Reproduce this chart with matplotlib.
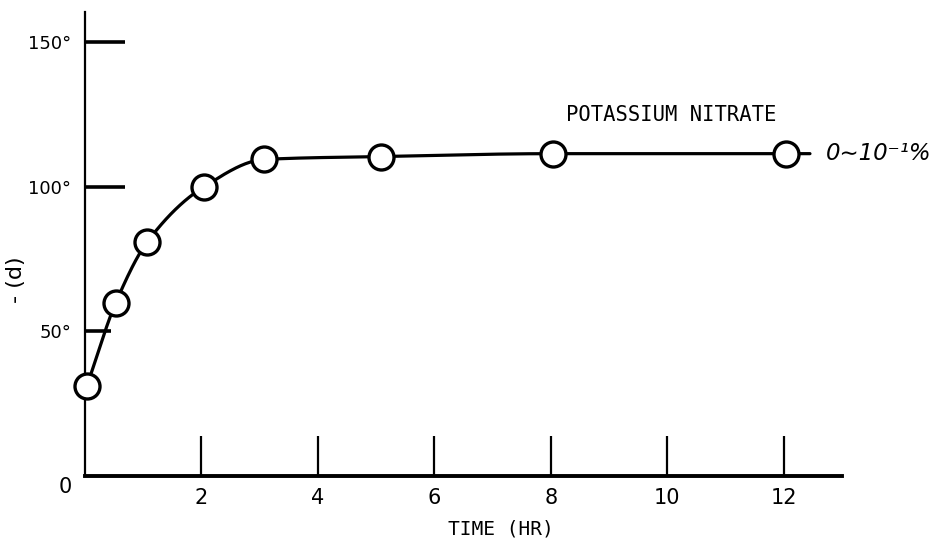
import numpy as np
import matplotlib
matplotlib.use("Agg")
import matplotlib.pyplot as plt

# Optical rotation -(d) of the solution over time (potassium nitrate 0~10^-1 %)
hours = [0.03, 0.53, 1.07, 2.04, 3.08, 5.09, 8.04, 12.03]
rotation_deg = [31, 60, 81, 100, 109.5, 110.5, 111.5, 111.5]

x_ticks = [2, 4, 6, 8, 10, 12]
x_tick_labels = ["2", "4", "6", "8", "10", "12"]
y_ticks = [50, 100, 150]
y_tick_labels = ["50°", "100°", "150°"]

series_name = "POTASSIUM NITRATE"
series_range = "0∼10⁻¹%"
tail_hours = 0.42  # short run of the curve past the last sample


def pchip(x, y, xs):
    """Monotone cubic Hermite curve through (x, y), evaluated at xs."""
    x = np.asarray(x, float)
    y = np.asarray(y, float)
    h = np.diff(x)
    d = np.diff(y) / h
    m = np.zeros_like(y)
    for k in range(1, len(x) - 1):
        if d[k - 1] * d[k] > 0:
            w1 = 2 * h[k] + h[k - 1]
            w2 = h[k] + 2 * h[k - 1]
            m[k] = (w1 + w2) / (w1 / d[k - 1] + w2 / d[k])
    m[0] = d[0]
    m[-1] = d[-1]
    idx = np.clip(np.searchsorted(x, xs) - 1, 0, len(x) - 2)
    t = (xs - x[idx]) / h[idx]
    h00 = 2 * t**3 - 3 * t**2 + 1
    h10 = t**3 - 2 * t**2 + t
    h01 = -2 * t**3 + 3 * t**2
    h11 = t**3 - t**2
    return (h00 * y[idx] + h10 * h[idx] * m[idx]
            + h01 * y[idx + 1] + h11 * h[idx] * m[idx + 1])


fig = plt.figure(figsize=(9.47, 5.40), dpi=100)
W, H = 947, 540
ax = fig.add_axes([85 / W, 1 - 476 / H, 757 / W, 464 / H])
ax.set_xlim(0, 13.0)
ax.set_ylim(0, 160.5)

# smooth curve through the samples, then a short flat tail
xs = np.linspace(hours[0], hours[-1], 600)
ys = pchip(hours, rotation_deg, xs)
xs = np.append(xs, hours[-1] + tail_hours)
ys = np.append(ys, rotation_deg[-1])
ax.plot(xs, ys, color="black", lw=2.3, zorder=2, clip_on=False,
        solid_capstyle="round")
ax.plot(hours, rotation_deg, "o", ms=18, mfc="white", mec="black",
        mew=2.4, zorder=3, clip_on=False)

# axes in the hand-drawn style
for side in ("top", "right"):
    ax.spines[side].set_visible(False)
ax.spines["left"].set_linewidth(1.6)
ax.spines["bottom"].set_linewidth(2.8)

ax.set_xticks(x_ticks)
ax.set_xticklabels(x_tick_labels)
ax.set_yticks(y_ticks)
ax.set_yticklabels(y_tick_labels)
ax.tick_params(axis="x", direction="in", length=29, width=1.6, pad=9,
               labelsize=15)
ax.tick_params(axis="y", direction="in", length=29, width=2.6, pad=10,
               labelsize=13)
ax.yaxis.get_major_ticks()[0].tick1line.set_markersize(19)

ax.annotate("0", xy=(0, 0), xytext=(-14, -8), textcoords="offset points",
            ha="center", va="center", fontsize=15)

ax.text(8.26, 125, series_name, ha="left", va="center",
        family="DejaVu Sans Mono", fontsize=14.8)
ax.text(12.72, 111.6, series_range, ha="left", va="center",
        fontsize=16.5, fontstyle="italic")

fig.text(501 / W, 1 - 529 / H, "TIME (HR)", ha="center", va="center",
         family="DejaVu Sans Mono", fontsize=14)
fig.text(16 / W, 1 - 280 / H, "- (d)", ha="center", va="center",
         rotation=90, fontsize=16)

fig.savefig("out.png", dpi=100, facecolor="white")
